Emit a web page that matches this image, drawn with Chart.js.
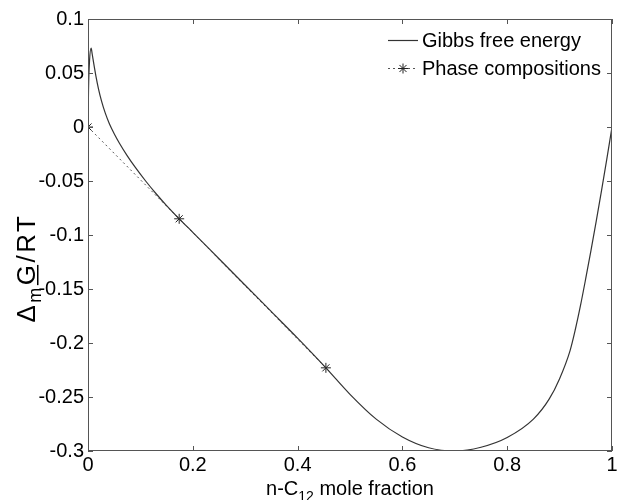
<!DOCTYPE html>
<html>
<head>
<meta charset="utf-8">
<script src="https://cdn.jsdelivr.net/npm/chart.js@4.4.1/dist/chart.umd.min.js"></script>
<style>
  html, body { margin: 0; padding: 0; background: #fff; }
  #wrap { width: 618px; height: 500px; }
</style>
</head>
<body>
<div id="wrap"><canvas id="graph"></canvas></div>
<script>
// mole fraction of n-C12 and the Gibbs curve
const moleFraction = [0, 0.001, 0.003, 0.006, 0.008, 0.011, 0.015, 0.02, 0.026, 0.033, 0.041, 0.05, 0.06, 0.075, 0.09, 0.11, 0.13, 0.15,
    0.174, 0.2, 0.25, 0.3, 0.35, 0.4, 0.454, 0.5, 0.55, 0.6, 0.65, 0.7, 0.75, 0.8, 0.85, 0.88,
    0.9, 0.92, 0.93, 0.94, 0.95, 0.96, 0.97, 0.98, 0.99, 1];
const gibbsEnergy = [0, 0.035, 0.062, 0.073, 0.0676, 0.0586, 0.0474, 0.0354, 0.0237, 0.0128, 0.0028, -0.0062, -0.015, -0.0267, -0.0372, -0.050, -0.0618, -0.0728,
    -0.085, -0.0975, -0.122, -0.1465, -0.171, -0.1955, -0.223, -0.2475, -0.2705, -0.287, -0.297, -0.300, -0.2965, -0.2875, -0.2705, -0.252,
    -0.233, -0.207, -0.1875, -0.165, -0.140, -0.114, -0.087, -0.059, -0.030, 0];

// the three phase compositions on the common tangent
const phaseX = [0, 0.174, 0.454];
const phaseY = [0, -0.085, -0.223];

const xTicks = [0, 0.2, 0.4, 0.6, 0.8, 1];
const yTicks = [0.1, 0.05, 0, -0.05, -0.1, -0.15, -0.2, -0.25, -0.3];
const seriesNames = ['Gibbs free energy', 'Phase compositions'];

const FONT = '"Liberation Sans", Arial, sans-serif';

// frame, inward ticks on all four sides, axis titles and the legend
const matlabAxes = {
    id: 'matlabAxes',
    afterDraw(chart) {
        const ctx = chart.ctx;
        const a = chart.chartArea;
        const xs = chart.scales.x, ys = chart.scales.y;
        ctx.save();
        ctx.strokeStyle = '#555';
        ctx.lineWidth = 1;
        ctx.strokeRect(Math.round(a.left) + 0.5, Math.round(a.top) + 0.5,
            Math.round(a.right - a.left) - 1, Math.round(a.bottom - a.top) - 1);
        ctx.beginPath();
        xTicks.forEach(v => {
            const px = Math.round(xs.getPixelForValue(v)) + 0.5;
            ctx.moveTo(px, a.bottom); ctx.lineTo(px, a.bottom - 5);
            ctx.moveTo(px, a.top); ctx.lineTo(px, a.top + 5);
        });
        yTicks.forEach(v => {
            const py = Math.round(ys.getPixelForValue(v)) + 0.5;
            ctx.moveTo(a.left, py); ctx.lineTo(a.left + 5, py);
            ctx.moveTo(a.right, py); ctx.lineTo(a.right - 5, py);
        });
        ctx.stroke();

        // x title with subscript
        ctx.fillStyle = '#000';
        ctx.textBaseline = 'alphabetic';
        const big = '20px ' + FONT, small = '14px ' + FONT;
        const parts = [['n-C', big, 0], ['12', small, 6], [' mole fraction', big, 0]];
        let w = 0;
        parts.forEach(p => { ctx.font = p[1]; w += ctx.measureText(p[0]).width; });
        let x = (a.left + a.right) / 2 - w / 2;
        parts.forEach(p => {
            ctx.font = p[1];
            ctx.fillText(p[0], x, 495 + p[2]);
            x += ctx.measureText(p[0]).width;
        });

        // y title: Delta_m underlined G / RT
        ctx.save();
        ctx.translate(35, 268);
        ctx.rotate(-Math.PI / 2);
        const ybig = '26px ' + FONT, ysmall = '18px ' + FONT;
        ctx.letterSpacing = '2.5px';
        const yparts = [['\u0394', ybig, 0, false], ['m', ysmall, 6, false], ['G', ybig, 0, true], ['/RT', ybig, 0, false]];
        w = 0;
        yparts.forEach(p => { ctx.font = p[1]; w += ctx.measureText(p[0]).width; });
        x = -w / 2;
        yparts.forEach(p => {
            ctx.font = p[1];
            const tw = ctx.measureText(p[0]).width;
            ctx.fillText(p[0], x, p[2]);
            if (p[3]) ctx.fillRect(x, 2, tw - 2.5, 1.5);
            x += tw;
        });
        ctx.restore();

        // legend
        const ds = chart.data.datasets;
        ctx.font = big;
        ctx.fillText(ds[0].label, 422, 47);
        ctx.fillText(ds[1].label, 422, 75);
        ctx.strokeStyle = ds[0].borderColor;
        ctx.lineWidth = ds[0].borderWidth;
        ctx.beginPath(); ctx.moveTo(388, 40.5); ctx.lineTo(418, 40.5); ctx.stroke();
        ctx.strokeStyle = ds[1].borderColor;
        ctx.lineWidth = ds[1].borderWidth;
        ctx.setLineDash(ds[1].borderDash);
        ctx.beginPath(); ctx.moveTo(388, 68.5); ctx.lineTo(418, 68.5); ctx.stroke();
        ctx.setLineDash([]);
        ctx.strokeStyle = ds[1].pointBorderColor;
        Chart.helpers.drawPoint(ctx, { pointStyle: 'star', radius: ds[1].pointRadius, borderWidth: 1 }, 403, 68.5);
        ctx.restore();
    }
};

const config = {
    type: 'line',
    data: {
        datasets: [
            {
                label: seriesNames[0],
                data: moleFraction.map((v, i) => ({ x: v, y: gibbsEnergy[i] })),
                borderColor: '#333',
                borderWidth: 1.2,
                pointRadius: 0,
                cubicInterpolationMode: 'monotone'
            },
            {
                label: seriesNames[1],
                data: phaseX.map((v, i) => ({ x: v, y: phaseY[i] })),
                borderColor: '#555',
                borderWidth: 1,
                borderDash: [2, 3],
                pointStyle: 'star',
                pointRadius: 5,
                pointBorderColor: '#222',
                pointBorderWidth: 1,
                pointBackgroundColor: '#222'
            }
        ]
    },
    options: {
        responsive: true,
        maintainAspectRatio: false,
        animation: false,
        layout: { padding: { left: 0, right: 4, top: 19, bottom: 0 } },
        scales: {
            x: {
                type: 'linear',
                min: 0, max: 1,
                grid: { display: false, drawTicks: false },
                border: { display: false },
                afterBuildTicks: s => { s.ticks = xTicks.map(v => ({ value: v })); },
                afterFit: s => { s.height = 49; s.paddingLeft = 0; s.paddingRight = 0; },
                ticks: {
                    color: '#000',
                    font: { family: FONT, size: 20 },
                    padding: 2,
                    maxRotation: 0,
                    callback: v => String(+v.toFixed(2))
                }
            },
            y: {
                min: -0.3, max: 0.1,
                grid: { display: false, drawTicks: false },
                border: { display: false },
                afterBuildTicks: s => { s.ticks = yTicks.map(v => ({ value: v })); },
                afterFit: s => { s.width = 88; s.paddingTop = 0; s.paddingBottom = 0; },
                ticks: {
                    color: '#000',
                    font: { family: FONT, size: 20 },
                    padding: 4,
                    callback: v => String(+v.toFixed(2))
                }
            }
        },
        plugins: {
            legend: { display: false },
            tooltip: { enabled: false }
        }
    },
    plugins: [matlabAxes]
};

const myChart = new Chart(document.getElementById('graph'), config);
</script>
</body>
</html>
